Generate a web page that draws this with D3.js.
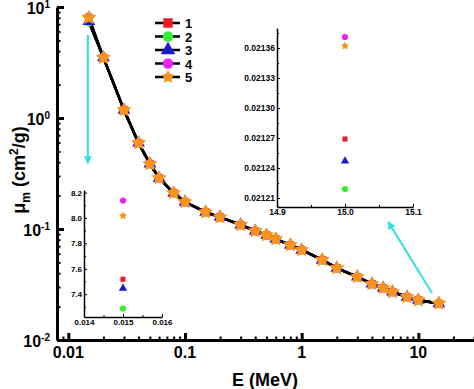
<!DOCTYPE html>
<html>
<head>
<meta charset="utf-8">
<style>
body { margin: 0; background: #fff; }
svg { font-family: "Liberation Sans", Arial, sans-serif; font-weight: bold; }
.axis path, .axis line { stroke: #000; }
.axis text { fill: #000; }
</style>
</head>
<body>
<svg id="chart" width="474" height="389"></svg>
<script src="https://d3js.org/d3.v7.min.js"></script>
<script>
// photon energies (MeV)
var energy = [0.015, 0.02, 0.03, 0.04, 0.05, 0.06, 0.08, 0.1, 0.15, 0.2, 0.3, 0.4,
  0.5, 0.6, 0.8, 1, 1.5, 2, 3, 4, 5, 6, 8, 10, 15];
// mass attenuation coefficient, shared by all samples between the two ends (cm2/g)
var muMid = [3.5, 1.18, 0.596, 0.386, 0.288, 0.211, 0.175, 0.142, 0.128, 0.109, 0.096,
  0.088, 0.081, 0.0717, 0.0647, 0.0526, 0.0445, 0.037, 0.032, 0.0294, 0.0271, 0.0244, 0.0229];
// values at 0.015 MeV and at 15 MeV, per sample
var muLow  = [7.517, 7.287, 7.446, 8.137, 8.017];
var muHigh = [0.021269, 0.021219, 0.021247, 0.021371, 0.021362];
var names  = ["1", "2", "3", "4", "5"];
var colors = ["#ee1c24", "#33ee33", "#1a1acc", "#ee22ee", "#f7941d"];

// fatter five point star, like the plotting program's
var fatStar = {
  draw: function(ctx, size) {
    var R = Math.sqrt(size) * 0.62, r = R * 0.52;
    for (var i = 0; i < 10; i++) {
      var a = -Math.PI / 2 + i * Math.PI / 5, rr = i % 2 ? r : R;
      if (i === 0) ctx.moveTo(rr * Math.cos(a), rr * Math.sin(a));
      else ctx.lineTo(rr * Math.cos(a), rr * Math.sin(a));
    }
    ctx.closePath();
  }
};
var shapes = [d3.symbolSquare, d3.symbolCircle, d3.symbolTriangle, d3.symbolCircle, fatStar];

var yMajor = [0.01, 0.1, 1, 10];
var yMajorExp = ["-2", "-1", "0", "1"];
var xMajor = [0.01, 0.1, 1, 10];
var xMajorText = ["0.01", "0.1", "1", "10"];
var lowTicks = [7.4, 7.6, 7.8, 8.0, 8.2];
var lowXTicks = [0.014, 0.015, 0.016];
var highTicks = [0.02121, 0.02124, 0.02127, 0.02130, 0.02133, 0.02136];
var highXTicks = [14.9, 15.0, 15.1];

var series = names.map(function(n, i) {
  var mu = [muLow[i]].concat(muMid, [muHigh[i]]);
  return { name: n, color: colors[i], shape: shapes[i],
    pts: energy.map(function(e, j) { return { e: e, mu: mu[j] }; }) };
});

var svg = d3.select("#chart");

//	main scales
var x = d3.scaleLog().domain([0.008, 30]).range([57, 474]);
var y = d3.scaleLog().domain([0.01, 10]).range([340, 7]);

function minorLog(lo, hi) {
  var out = [];
  for (var d = lo; d < hi; d *= 10)
    for (var k = 2; k <= 9; k++) out.push(d * k);
  return out;
}

// minor ticks
svg.append("g").attr("class", "axis")
  .attr("transform", "translate(57,0)")
  .call(d3.axisLeft(y).tickValues(minorLog(0.01, 10)).tickSize(-3.5).tickFormat(""))
  .call(function(g) { g.select(".domain").remove(); g.selectAll("line").attr("stroke-width", 2); });
svg.append("g").attr("class", "axis")
  .attr("transform", "translate(0,340)")
  .call(d3.axisBottom(x).tickValues(minorLog(0.001, 30).filter(function(v) { return v >= 0.008 && v <= 30; })).tickSize(-3.5).tickFormat(""))
  .call(function(g) { g.select(".domain").remove(); g.selectAll("line").attr("stroke-width", 2); });

// major ticks + axis lines
svg.append("g").attr("class", "axis")
  .attr("transform", "translate(57,0)")
  .call(d3.axisLeft(y).tickValues(yMajor).tickSize(-7).tickSizeOuter(0).tickFormat(""))
  .call(function(g) { g.select(".domain").attr("stroke-width", 3); g.selectAll("line").attr("stroke-width", 3); });
svg.append("g").attr("class", "axis")
  .attr("transform", "translate(0,340)")
  .call(d3.axisBottom(x).tickValues(xMajor).tickSize(-7).tickSizeOuter(0).tickFormat(""))
  .call(function(g) { g.select(".domain").attr("stroke-width", 3); g.selectAll("line").attr("stroke-width", 3); });

// tick labels
var yl = svg.append("g").selectAll("text").data(yMajor).enter().append("text")
  .attr("x", 50).attr("y", function(d) { return y(d) + 7; })
  .attr("text-anchor", "end").style("font-size", "16px");
yl.append("tspan").text("10");
yl.append("tspan").attr("dy", -6).style("font-size", "10px")
  .text(function(d, i) { return yMajorExp[i]; });

svg.append("g").selectAll("text").data(xMajor).enter().append("text")
  .attr("x", function(d) { return x(d); }).attr("y", 358)
  .attr("text-anchor", "middle").style("font-size", "16px")
  .text(function(d, i) { return xMajorText[i]; });

// axis titles
svg.append("text").attr("x", 265).attr("y", 386).attr("text-anchor", "middle")
  .style("font-size", "18px").text("E (MeV)");
var yt = svg.append("text").attr("transform", "translate(25,170) rotate(-90)")
  .attr("text-anchor", "middle").style("font-size", "18px");
yt.append("tspan").text("\u03bc");
yt.append("tspan").attr("dy", 5).style("font-size", "12px").text("m");
yt.append("tspan").attr("dy", -5).text(" (cm");
yt.append("tspan").attr("dy", -7).style("font-size", "12px").text("2");
yt.append("tspan").attr("dy", 7).text("/g)");

// lines then markers
var line = d3.line().x(function(d) { return x(d.e); }).y(function(d) { return y(d.mu); });
series.forEach(function(s) {
  svg.append("path").datum(s.pts).attr("d", line)
    .attr("fill", "none").attr("stroke", "#000").attr("stroke-width", 2.5);
});
var mainSize = [60, 60, 70, 65, 160];
series.forEach(function(s, i) {
  svg.append("g").selectAll("path").data(s.pts).enter().append("path")
    .attr("transform", function(d) { return "translate(" + x(d.e) + "," + y(d.mu) + ")"; })
    .attr("d", d3.symbol().type(s.shape).size(mainSize[i]))
    .attr("fill", s.color);
});

// legend
var legendSize = [90, 85, 90, 85, 130];
var legend = svg.append("g").selectAll("g").data(series).enter().append("g")
  .attr("transform", function(d, i) { return "translate(168," + (23 + i * 13.5) + ")"; });
legend.append("line").attr("x1", -13).attr("x2", 12).attr("stroke", "#000").attr("stroke-width", 2.5);
legend.append("path").attr("d", function(d, i) { return d3.symbol().type(d.shape).size(legendSize[i])(); })
  .attr("fill", function(d) { return d.color; });
legend.append("text").attr("x", 17).attr("y", 5).style("font-size", "13px")
  .text(function(d) { return d.name; });

// cyan arrows (in data coordinates of the main plot)
var arrows = [
  { e1: 0.0147, m1: 5.6, e2: 0.0147, m2: 0.39 },
  { e1: 13.1, m1: 0.0265, e2: 5.52, m2: 0.1156 }
];
svg.append("defs").append("marker").attr("id", "head")
  .attr("viewBox", "0 0 10 10").attr("refX", 9).attr("refY", 5)
  .attr("markerWidth", 4).attr("markerHeight", 4).attr("orient", "auto")
  .append("path").attr("d", "M0,0L10,5L0,10z").attr("fill", "#30e0e0");
svg.append("g").selectAll("line").data(arrows).enter().append("line")
  .attr("x1", function(d) { return x(d.e1); }).attr("y1", function(d) { return y(d.m1); })
  .attr("x2", function(d) { return x(d.e2); }).attr("y2", function(d) { return y(d.m2); })
  .attr("stroke", "#30e0e0").attr("stroke-width", 2).attr("marker-end", "url(#head)");

// ========================= INSETS ==========================
function inset(cfg) {
  var g = svg.append("g");
  g.append("rect").attr("x", cfg.x.range()[0]).attr("y", cfg.y.range()[1])
    .attr("width", cfg.x.range()[1] - cfg.x.range()[0])
    .attr("height", cfg.y.range()[0] - cfg.y.range()[1]).attr("fill", "#fff");
  g.append("g").attr("class", "axis").attr("transform", "translate(" + cfg.x.range()[0] + ",0)")
    .call(d3.axisLeft(cfg.y).tickValues(cfg.yMinor).tickSize(-2).tickFormat(""))
    .call(function(a) { a.select(".domain").remove(); });
  g.append("g").attr("class", "axis").attr("transform", "translate(0," + cfg.y.range()[0] + ")")
    .call(d3.axisBottom(cfg.x).tickValues(cfg.xMinor).tickSize(-2).tickFormat(""))
    .call(function(a) { a.select(".domain").remove(); });
  g.append("g").attr("class", "axis").attr("transform", "translate(" + cfg.x.range()[0] + ",0)")
    .call(d3.axisLeft(cfg.y).tickValues(cfg.yTicks).tickSize(-3).tickSizeOuter(0).tickPadding(2).tickFormat(cfg.yFmt))
    .call(function(a) { a.select(".domain").attr("stroke-width", 1.5); a.selectAll("text").style("font-size", cfg.fs); });
  g.append("g").attr("class", "axis").attr("transform", "translate(0," + cfg.y.range()[0] + ")")
    .call(d3.axisBottom(cfg.x).tickValues(cfg.xTicks).tickSize(-3).tickSizeOuter(0).tickPadding(2).tickFormat(cfg.xFmt))
    .call(function(a) { a.select(".domain").attr("stroke-width", 1.5); a.selectAll("text").style("font-size", cfg.fs); });
  var small = [26, 30, 30, 30, 45];
  series.forEach(function(s, i) {
    g.append("path")
      .attr("transform", "translate(" + cfg.x(cfg.e) + "," + cfg.y(cfg.vals[i]) + ")")
      .attr("d", d3.symbol().type(s.shape).size(small[i])).attr("fill", s.color);
  });
}

inset({
  x: d3.scaleLinear().domain([0.014, 0.016]).range([84, 162]),
  y: d3.scaleLinear().domain([7.22, 8.22]).range([317, 190]),
  yTicks: lowTicks, yMinor: [7.3, 7.5, 7.7, 7.9, 8.1],
  xTicks: lowXTicks, xMinor: [0.0145, 0.0155],
  yFmt: d3.format(".1f"), xFmt: d3.format(".3f"), fs: "8px",
  e: 0.015, vals: muLow
});
inset({
  x: d3.scaleLinear().domain([14.9, 15.1]).range([277, 413]),
  y: d3.scaleLinear().domain([0.021201, 0.02138]).range([207, 28]),
  yTicks: highTicks, yMinor: [0.021225, 0.021255, 0.021285, 0.021315, 0.021345, 0.021375],
  xTicks: highXTicks, xMinor: [14.95, 15.05],
  yFmt: d3.format(".5f"), xFmt: d3.format(".1f"), fs: "8.5px",
  e: 15, vals: muHigh
});
</script>
</body>
</html>
